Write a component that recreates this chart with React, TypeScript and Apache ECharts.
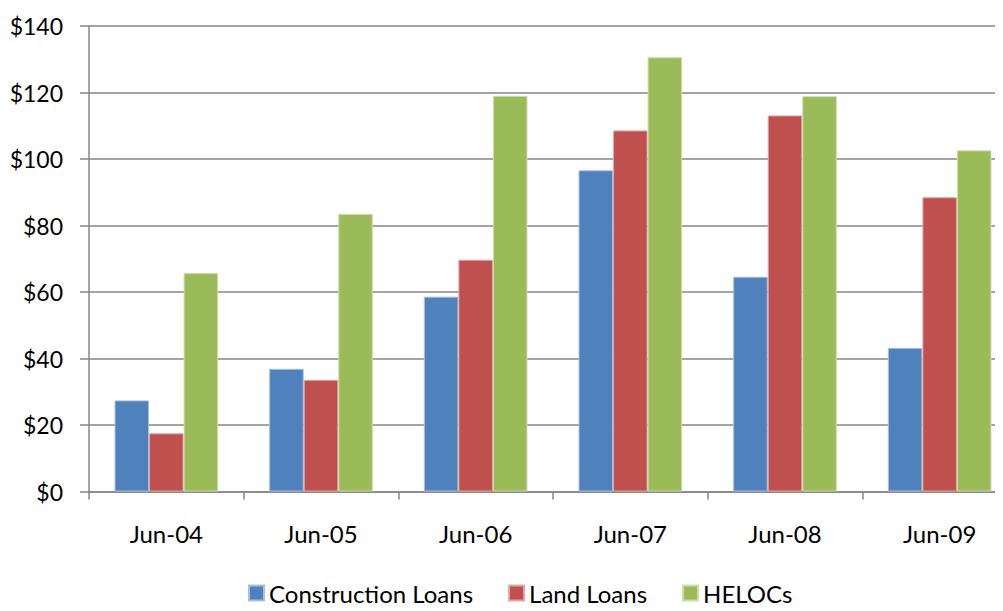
import React, { useEffect, useRef } from "react";
import * as echarts from "echarts";

const categories = ["Jun-04", "Jun-05", "Jun-06", "Jun-07", "Jun-08", "Jun-09"];
const constructionLoans = [27.4, 36.9, 58.6, 96.6, 64.6, 43.2];
const landLoans = [17.5, 33.6, 69.7, 108.6, 113.1, 88.5];
const helocs = [65.7, 83.5, 119.0, 130.6, 118.9, 102.6];
const seriesNames = ["Construction Loans", "Land Loans", "HELOCs"];
const colors = ["#4F81BD", "#C0504D", "#9BBB59"];
const borders = ["#A7C0DE", "#DFA8A6", "#CDDDAC"];

const FONT = "Lato";

export default function App() {
  const ref = useRef<HTMLDivElement>(null);
  useEffect(() => {
    if (!ref.current) return;
    const chart = echarts.init(ref.current, undefined, { renderer: "svg" });
    const data = [constructionLoans, landLoans, helocs];
    chart.setOption({
      animation: false,
      backgroundColor: "#ffffff",
      textStyle: { fontFamily: FONT },
      grid: { left: 89, top: 26, width: 928, bottom: 119.5, containLabel: false },
      legend: {
        top: 576,
        left: 243,
        icon: "rect",
        itemWidth: 15,
        itemHeight: 15,
        itemGap: 35,
        textStyle: { fontFamily: FONT, fontSize: 24, color: "#000" },
        data: seriesNames,
      },
      xAxis: {
        type: "category",
        data: categories,
        axisLine: { lineStyle: { color: "#868686", width: 1.5 } },
        axisTick: { show: true, length: 8, lineStyle: { color: "#868686", width: 1.5 } },
        axisLabel: { margin: 30, fontFamily: FONT, fontSize: 24, color: "#000" },
      },
      yAxis: {
        type: "value",
        min: 0,
        max: 140,
        interval: 20,
        axisLine: { show: true, lineStyle: { color: "#868686", width: 1.5 } },
        axisTick: { show: true, length: 9, lineStyle: { color: "#868686", width: 1.5 } },
        splitLine: { show: true, lineStyle: { color: "#868686", width: 1.5 } },
        axisLabel: {
          margin: 26,
          fontFamily: FONT,
          fontSize: 23,
          color: "#000",
          formatter: (v: number) => "$" + v,
        },
      },
      series: seriesNames.map((name, i) => ({
        name,
        type: "bar",
        data: data[i],
        barGap: "0%",
        barCategoryGap: "33%",
        itemStyle: { color: colors[i], borderColor: borders[i], borderWidth: 1 },
      })),
    });
    return () => chart.dispose();
  }, []);
  return (
    <div style={{ width: 1003, height: 611, margin: -8, overflow: "hidden", position: "relative" }}>
      <div ref={ref} style={{ width: 1030, height: 611 }} />
    </div>
  );
}
